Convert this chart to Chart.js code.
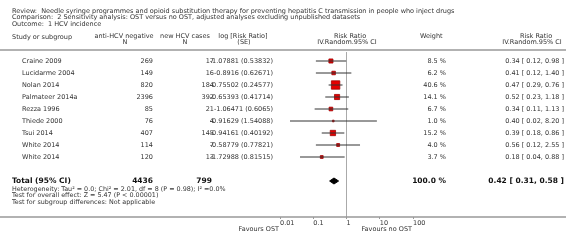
<!DOCTYPE html>
<html>
<head>
<meta charset="utf-8">
<script src="https://cdn.jsdelivr.net/npm/chart.js@4.4.0/dist/chart.umd.min.js"></script>
<style>
  html, body { margin: 0; padding: 0; background: #fff; }
  #wrap { width: 566px; height: 241px; }
</style>
</head>
<body>
<div id="wrap"><canvas id="forest" width="566" height="241"></canvas></div>
<script>
// --- data ---
const studies = ["Craine 2009", "Lucidarme 2004", "Nolan 2014", "Palmateer 2014a", "Rezza 1996",
  "Thiede 2000", "Tsui 2014", "White 2014", "White 2014"];
const negN = [269, 149, 820, 2396, 85, 76, 407, 114, 120];
const cases = [17, 16, 184, 392, 21, 4, 145, 7, 13];
const logRR = ["-1.07881", "-0.8916", "-0.75502", "-0.65393", "-1.06471", "-0.91629", "-0.94161", "-0.58779", "-1.72988"];
const logSE = ["0.53832", "0.62671", "0.24577", "0.41714", "0.6065", "1.54088", "0.40192", "0.77821", "0.81515"];
const weights = [8.5, 6.2, 40.6, 14.1, 6.7, 1.0, 15.2, 4.0, 3.7];
const rr = [0.34, 0.41, 0.47, 0.52, 0.34, 0.40, 0.39, 0.56, 0.18];
const rrLo = [0.12, 0.12, 0.29, 0.23, 0.11, 0.02, 0.18, 0.12, 0.04];
const rrHi = [0.98, 1.40, 0.76, 1.18, 1.13, 8.20, 0.86, 2.55, 0.88];

const totalNeg = 4436;
const totalCases = 799;
const totalRR = 0.42, totalLo = 0.31, totalHi = 0.58;

const tickVals = [0.01, 0.1, 1, 10, 100];
const tickLabels = ["0.01", "0.1", "1", "10", "100"];

const titleLines = [
  "Review:  Needle syringe programmes and opioid substitution therapy for preventing hepatitis C transmission in people who inject drugs",
  "Comparison:  2 Sensitivity analysis: OST versus no OST, adjusted analyses excluding unpublished datasets",
  "Outcome:  1 HCV incidence"
];
const footLines = [
  "Heterogeneity: Tau\u00b2 = 0.0; Chi\u00b2 = 2.01, df = 8 (P = 0.98); I\u00b2 =0.0%",
  "Test for overall effect: Z = 5.47 (P < 0.00001)",
  "Test for subgroup differences: Not applicable"
];

// --- layout / style ---
const FONT = "DejaVu Sans";
const TXT = "#333";
const totalRow = studies.length + 1;   // blank row between studies and total
const diamondHalf = 0.25;              // in row units
const fmt2 = v => v.toFixed(2);

function font(size, bold) {
  return (bold ? "bold " : "") + size + "px '" + FONT + "'";
}

// CI lines, one per study
const ciSets = studies.map((s, i) => ({
  label: s,
  data: [{ x: rrLo[i], y: i }, { x: rrHi[i], y: i }],
  borderColor: "#333",
  borderWidth: 1,
  pointRadius: 0,
  fill: false
}));

// squares sized by weight
const boxSet = {
  label: "RR",
  data: rr.map((v, i) => ({ x: v, y: i })),
  showLine: false,
  pointStyle: "rect",
  pointRadius: weights.map(w => 8 * Math.sqrt(w / 40.6) / Math.SQRT2 + 0.3),
  pointBackgroundColor: "#e60000",
  pointBorderColor: "#a00000",
  pointBorderWidth: 0.8
};

// pooled diamond as two filled halves
const diamondSets = [-1, 1].map(sgn => ({
  label: "total",
  data: [{ x: totalLo, y: totalRow }, { x: totalRR, y: totalRow + sgn * diamondHalf }, { x: totalHi, y: totalRow }],
  borderColor: "#000",
  backgroundColor: "#000",
  borderWidth: 1,
  pointRadius: 0,
  tension: 0,
  fill: { value: totalRow }
}));

// --- table text + rules drawn around the plot ---
const tablePlugin = {
  id: "forestTable",
  afterDraw(chart) {
    const ctx = chart.ctx;
    const xs = chart.scales.x, ys = chart.scales.y;
    ctx.save();

    // rules
    ctx.strokeStyle = "#999";
    ctx.lineWidth = 1.5;
    ctx.beginPath();
    ctx.moveTo(0, 50); ctx.lineTo(566, 50);
    ctx.moveTo(0, xs.top); ctx.lineTo(566, xs.top);
    ctx.stroke();

    ctx.fillStyle = TXT;
    ctx.textBaseline = "middle";

    // title block
    ctx.font = font(6.5);
    ctx.textAlign = "left";
    titleLines.forEach((t, i) => ctx.fillText(t, 12, 11 + i * 6.5));

    // headers
    ctx.textAlign = "left";
    ctx.fillText("Study or subgroup", 12, 37);
    ctx.fillText("Weight", 420, 36);
    ctx.textAlign = "center";
    ctx.fillText("anti-HCV negative", 124, 36);
    ctx.fillText("N", 125, 42.5);
    ctx.fillText("new HCV cases", 185, 36);
    ctx.fillText("N", 185, 42.5);
    ctx.fillText("log [Risk Ratio]", 243, 36);
    ctx.fillText("(SE)", 244, 42.5);
    ctx.fillText("Risk Ratio", 350, 36);
    ctx.fillText("IV.Random.95% CI", 347, 42.5);
    ctx.fillText("Risk Ratio", 536, 36);
    ctx.fillText("IV.Random.95% CI", 532, 42.5);

    // study rows
    ctx.font = font(6.5);
    studies.forEach((s, i) => {
      const y = ys.getPixelForValue(i);
      ctx.textAlign = "left";
      ctx.fillText(s, 22, y);
      ctx.textAlign = "right";
      ctx.fillText(String(negN[i]), 153, y);
      ctx.fillText(logRR[i] + " (" + logSE[i] + ")", 273, y);
      ctx.fillText(String(cases[i]), 214, y);
      ctx.fillText(weights[i].toFixed(1) + " %", 446, y);
      ctx.fillText(fmt2(rr[i]) + " [ " + fmt2(rrLo[i]) + ", " + fmt2(rrHi[i]) + " ]", 564, y);
    });

    // total row
    const yt = ys.getPixelForValue(totalRow);
    ctx.font = font(7.5, true);
    ctx.fillStyle = "#111";
    ctx.textAlign = "left";
    ctx.fillText("Total (95% CI)", 12, yt);
    ctx.textAlign = "right";
    ctx.fillText(String(totalNeg), 153, yt);
    ctx.fillText(String(totalCases), 212, yt);
    ctx.fillText((100).toFixed(1) + " %", 446, yt);
    ctx.fillText(fmt2(totalRR) + " [ " + fmt2(totalLo) + ", " + fmt2(totalHi) + " ]", 564, yt);

    ctx.font = font(6.4);
    ctx.fillStyle = TXT;
    ctx.textAlign = "left";
    footLines.forEach((t, i) => ctx.fillText(t, 12, yt + 8 + i * 6.5));

    // favours labels
    ctx.font = font(6.5);
    ctx.textAlign = "right";
    ctx.fillText("Favours OST", xs.getPixelForValue(tickVals[0]) - 1, 229);
    ctx.fillText("Favours no OST", xs.getPixelForValue(tickVals[tickVals.length - 1]) - 1, 229);

    ctx.restore();
  }
};

new Chart(document.getElementById("forest"), {
  type: "line",
  data: { datasets: [...ciSets, ...diamondSets, boxSet] },
  options: {
    responsive: false,
    animation: false,
    devicePixelRatio: 1,
    layout: { padding: { left: 280, right: 153, top: 52, bottom: 0 } },
    plugins: { legend: { display: false }, tooltip: { enabled: false } },
    scales: {
      x: {
        type: "logarithmic",
        min: tickVals[0],
        max: tickVals[tickVals.length - 1],
        afterBuildTicks: s => { s.ticks = tickVals.map(v => ({ value: v })); },
        afterFit: s => { s.height = 24; },
        border: { display: false },
        grid: {
          color: c => (c.tick && c.tick.value === 1 ? "#aaa" : "rgba(0,0,0,0)"),
          tickColor: "#999",
          tickLength: 2
        },
        ticks: {
          callback: (v, i) => tickLabels[i],
          align: "start",
          autoSkip: false,
          maxRotation: 0,
          padding: 0,
          color: TXT,
          font: { family: FONT, size: 6.5 }
        }
      },
      y: {
        type: "linear",
        reverse: true,
        min: -0.75,
        max: 13,
        display: false
      }
    }
  },
  plugins: [tablePlugin]
});
</script>
</body>
</html>
